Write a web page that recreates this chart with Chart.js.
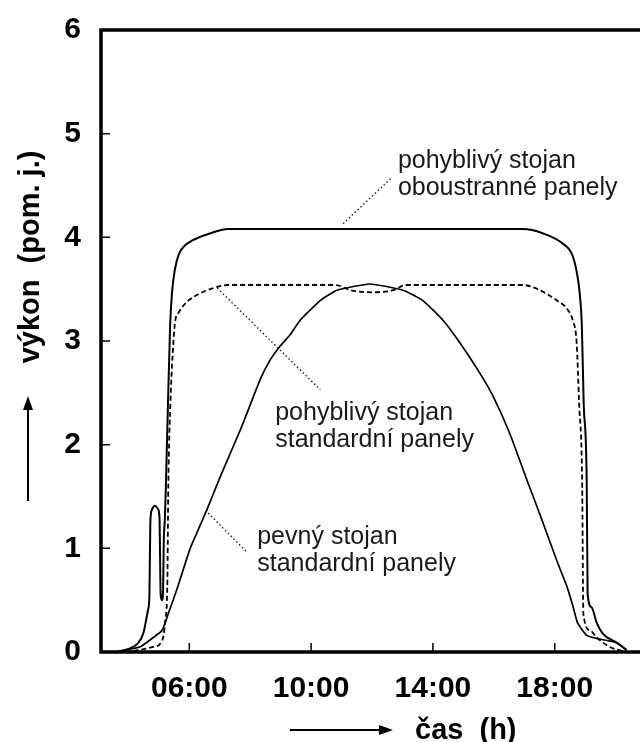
<!DOCTYPE html>
<html>
<head>
<meta charset="utf-8">
<script src="https://cdn.jsdelivr.net/npm/chart.js@4/dist/chart.umd.min.js"></script>
<style>
  html, body { margin: 0; padding: 0; background: #fff; }
  #wrap { width: 640px; height: 742px; }
</style>
</head>
<body>
<div id="wrap"><canvas id="chart" width="640" height="742"></canvas></div>
<script>
// time of day (h) and relative power
const bifacialT = [3.6, 4.0, 4.3, 4.49, 4.64, 4.69, 4.72, 4.77, 4.87, 4.97, 5.02, 5.06, 5.10, 5.14, 5.16, 5.2, 5.23, 5.3, 5.37, 5.43, 5.52, 5.66, 5.85, 6.1, 6.6, 7.28, 16.95, 17.6, 18.26, 18.59, 18.75, 18.82, 18.89, 18.95, 19.05, 19.08, 19.21, 19.38, 19.57, 20.03, 20.36];
const bifacialV = [0, 0.03, 0.08, 0.18, 0.4, 0.55, 1.25, 1.37, 1.41, 1.38, 1.3, 0.55, 0.5, 0.6, 1.05, 1.3, 1.6, 2.4, 3.15, 3.46, 3.68, 3.84, 3.92, 3.97, 4.03, 4.08, 4.08, 4.04, 3.94, 3.82, 3.62, 3.46, 3.15, 2.41, 1.64, 0.56, 0.43, 0.28, 0.18, 0.09, 0.02];

const trackerT = [3.64, 4.39, 4.82, 5.11, 5.21, 5.28, 5.31, 5.38, 5.48, 5.54, 5.64, 5.93, 6.36, 6.79, 7.25, 10.8, 11.3, 12.0, 12.7, 13.1, 16.95, 17.51, 18.07, 18.43, 18.59, 18.72, 18.8, 18.9, 18.94, 19.15, 19.38, 19.8, 20.36];
const trackerV = [0, 0.02, 0.05, 0.11, 0.3, 0.69, 1.6, 2.4, 3.0, 3.2, 3.27, 3.38, 3.46, 3.51, 3.54, 3.54, 3.49, 3.47, 3.49, 3.54, 3.54, 3.49, 3.39, 3.30, 3.2, 2.98, 2.4, 1.64, 0.37, 0.21, 0.14, 0.05, 0];

const fixedT = [3.64, 4.39, 4.82, 5.11, 5.31, 5.61, 6.03, 6.59, 7.0, 7.70, 8.33, 8.66, 8.98, 9.31, 9.64, 10.30, 10.85, 11.93, 13.02, 13.67, 14.33, 14.89, 15.54, 15.97, 16.52, 17.11, 17.51, 18.07, 18.39, 18.59, 18.75, 19.05, 19.38, 20.03, 20.36];
const fixedV = [0, 0.05, 0.14, 0.21, 0.37, 0.62, 1.0, 1.38, 1.68, 2.16, 2.63, 2.82, 2.95, 3.06, 3.2, 3.39, 3.49, 3.55, 3.49, 3.39, 3.2, 2.98, 2.69, 2.47, 2.11, 1.64, 1.33, 0.88, 0.64, 0.45, 0.28, 0.16, 0.13, 0.09, 0.02];

const xTicks = [6, 10, 14, 18];
const yTicks = [0, 1, 2, 3, 4, 5, 6];

// callout texts: two lines, text anchor and leader line ends (data units)
const labels = [
  { lines: ['pohyblivý stojan', 'oboustranné panely'], at: [12.85, 4.67], from: [11.05, 4.13], to: [12.66, 4.58] },
  { lines: ['pohyblivý stojan', 'standardní panely'], at: [8.82, 2.24], from: [6.92, 3.51], to: [10.30, 2.53] },
  { lines: ['pevný stojan', 'standardní panely'], at: [8.23, 1.04], from: [6.62, 1.34], to: [7.90, 0.96] }
];

const toPoints = (ts, vs) => ts.map((t, i) => ({ x: t, y: vs[i] }));

const frame = {
  id: 'frame',
  afterDatasetsDraw(chart) {
    const ctx = chart.ctx;
    const { left, right, top, bottom } = chart.chartArea;
    const xs = chart.scales.x, ys = chart.scales.y;
    ctx.save();

    // leaders
    ctx.strokeStyle = '#222';
    ctx.lineWidth = 1.4;
    ctx.setLineDash([1.5, 2.5]);
    labels.forEach(l => {
      ctx.beginPath();
      ctx.moveTo(xs.getPixelForValue(l.from[0]), ys.getPixelForValue(l.from[1]));
      ctx.lineTo(xs.getPixelForValue(l.to[0]), ys.getPixelForValue(l.to[1]));
      ctx.stroke();
    });
    ctx.setLineDash([]);

    // callout text
    ctx.fillStyle = '#1a1a1a';
    ctx.font = '25px "Liberation Sans", Arial, sans-serif';
    ctx.textBaseline = 'alphabetic';
    ctx.textAlign = 'left';
    labels.forEach(l => {
      const x = xs.getPixelForValue(l.at[0]);
      const y = ys.getPixelForValue(l.at[1]);
      l.lines.forEach((s, i) => ctx.fillText(s, x, y + i * 27));
    });

    // axes and top border
    ctx.strokeStyle = '#000';
    ctx.lineWidth = 3.5;
    ctx.beginPath();
    ctx.moveTo(right, top);
    ctx.lineTo(left, top);
    ctx.lineTo(left, bottom);
    ctx.lineTo(right, bottom);
    ctx.stroke();

    // inward tick marks
    ctx.lineWidth = 1.5;
    ctx.beginPath();
    xTicks.forEach(v => {
      const x = xs.getPixelForValue(v);
      ctx.moveTo(x, bottom);
      ctx.lineTo(x, bottom - 9);
    });
    yTicks.slice(1, -1).forEach(v => {
      const y = ys.getPixelForValue(v);
      ctx.moveTo(left, y);
      ctx.lineTo(left + 9, y);
    });
    ctx.stroke();

    // axis titles with arrows
    ctx.fillStyle = '#000';
    ctx.font = 'bold 29px "Liberation Sans", Arial, sans-serif';
    ctx.textBaseline = 'middle';
    ctx.textAlign = 'left';
    ctx.fillText('čas  (h)', left + 314, bottom + 79);
    arrow(ctx, left + 189, bottom + 78, left + 289, bottom + 78);

    ctx.save();
    ctx.translate(left - 70, top + 227);
    ctx.rotate(-Math.PI / 2);
    ctx.textAlign = 'center';
    ctx.fillText('výkon  (pom. j.)', 0, 0);
    ctx.restore();
    arrow(ctx, left - 73, top + 471, left - 73, top + 369);

    ctx.restore();
  }
};

function arrow(ctx, x1, y1, x2, y2) {
  const a = Math.atan2(y2 - y1, x2 - x1);
  ctx.lineWidth = 2;
  ctx.beginPath();
  ctx.moveTo(x1, y1);
  ctx.lineTo(x2, y2);
  ctx.stroke();
  ctx.beginPath();
  ctx.moveTo(x2 + 3 * Math.cos(a), y2 + 3 * Math.sin(a));
  ctx.lineTo(x2 - 11 * Math.cos(a) + 5 * Math.sin(a), y2 - 11 * Math.sin(a) - 5 * Math.cos(a));
  ctx.lineTo(x2 - 11 * Math.cos(a) - 5 * Math.sin(a), y2 - 11 * Math.sin(a) + 5 * Math.cos(a));
  ctx.closePath();
  ctx.fill();
}

const tickFont = { family: '"Liberation Sans", Arial, sans-serif', size: 30, weight: 'bold' };

new Chart(document.getElementById('chart'), {
  type: 'line',
  data: {
    datasets: [
      {
        label: 'pevný stojan, standardní panely',
        data: toPoints(fixedT, fixedV),
        borderColor: '#000',
        borderWidth: 1.7,
        pointRadius: 0,
        tension: 0.15
      },
      {
        label: 'pohyblivý stojan, standardní panely',
        data: toPoints(trackerT, trackerV),
        borderColor: '#000',
        borderWidth: 1.8,
        borderDash: [5, 3],
        pointRadius: 0,
        cubicInterpolationMode: 'monotone'
      },
      {
        label: 'pohyblivý stojan, oboustranné panely',
        data: toPoints(bifacialT, bifacialV),
        borderColor: '#000',
        borderWidth: 2,
        pointRadius: 0,
        cubicInterpolationMode: 'monotone'
      }
    ]
  },
  options: {
    responsive: false,
    animation: false,
    layout: { padding: { top: 24, left: 0, right: 0, bottom: 0 } },
    plugins: { legend: { display: false }, tooltip: { enabled: false } },
    scales: {
      x: {
        type: 'linear',
        min: 3.1,
        max: 20.8,
        grid: { display: false },
        border: { display: false },
        afterBuildTicks: axis => { axis.ticks = xTicks.map(v => ({ value: v })); },
        afterFit: s => { s.height = 90; },
        ticks: {
          color: '#000',
          font: tickFont,
          padding: 11,
          maxRotation: 0,
          callback: v => String(v).padStart(2, '0') + ':00'
        }
      },
      y: {
        min: 0,
        max: 6,
        grid: { display: false },
        border: { display: false },
        afterBuildTicks: axis => { axis.ticks = yTicks.map(v => ({ value: v })); },
        afterFit: s => { s.width = 101; },
        ticks: { color: '#000', font: tickFont, padding: 12 }
      }
    }
  },
  plugins: [frame]
});
</script>
</body>
</html>
